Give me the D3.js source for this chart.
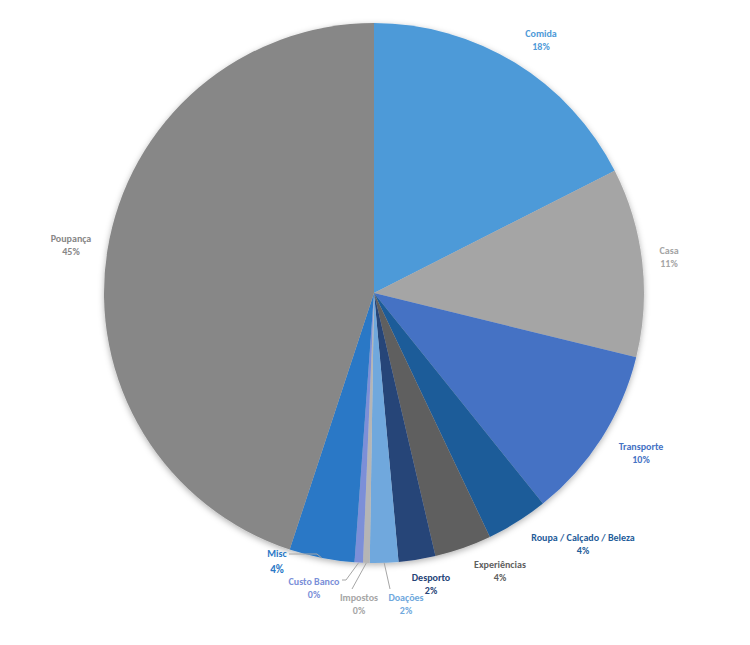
<!DOCTYPE html>
<html><head><meta charset="utf-8">
<script src="https://cdn.jsdelivr.net/npm/d3@7"></script>
<style>body{margin:0;background:#fff}text{font-family:Calibri,"Liberation Sans",Arial,sans-serif;font-weight:bold;font-size:10px}</style>
</head><body><div id="chart"></div>
<script>
var categories = ["Comida","Casa","Transporte","Roupa / Calçado / Beleza","Experiências","Desporto","Doações","Impostos","Custo Banco","Misc","Poupança"];
var values = [17.5,11.3,10.4,3.7,3.4,2.2,1.7,0.4,0.5,3.9,44.9];
var colors = ["#4e9ad8","#a5a5a5","#4472c4","#1f5c99","#5f5f5f","#264478","#70a8dd","#b5b5b5","#7b8fd8","#2a78c6","#878787"];
var pctLabels = ["18%","11%","10%","4%","4%","2%","2%","0%","0%","4%","45%"];

// label anchor positions (x,y of name line) and whether a leader line is drawn
var labelPos = [[541,37,0],[669,254,0],[641,450,0],[583,541,0],[500,568,0],[431,581,0],[406,601,1],[359,601,1],[314,585,1],[277,570,1],[71,242,0]];

var width = 750, height = 645, cx = 374, cy = 293, r = 270;
var svg = d3.select("#chart").append("svg").attr("width", width).attr("height", height);
var defs = svg.append("defs");
var f = defs.append("filter").attr("id","sh").attr("x","-10%").attr("y","-10%").attr("width","120%").attr("height","120%");
f.append("feDropShadow").attr("dx",0).attr("dy",2).attr("stdDeviation",3).attr("flood-opacity",0.3);

var pie = d3.pie().sort(null).value(d => d)(values);
var arc = d3.arc().innerRadius(0).outerRadius(r);
var g = svg.append("g").attr("transform", `translate(${cx},${cy})`);
g.append("g").attr("filter","url(#sh)").selectAll("path").data(pie).enter().append("path")
  .attr("d", arc).attr("fill", (d,i) => colors[i]);

var lbl = svg.append("g");
pie.forEach(function(d,i){
  var p = labelPos[i], c = colors[i];
  if (i === 7) c = "#a6a6a6";
  var mid = (d.startAngle + d.endAngle)/2;
  var ex = cx + Math.sin(mid)*r, ey = cy - Math.cos(mid)*r;
  if (p[2]) {
    var pts;
    if (i === 9) pts = [[ex,ey],[p[0]+40,p[1]-16],[p[0]+12,p[1]-16]];
    else if (i === 8) pts = [[ex,ey],[p[0]+32,p[1]-5],[p[0]+28,p[1]-5]];
    else if (i === 7) pts = [[ex,ey],[p[0]-7,p[1]-12]];
    else pts = [[ex,ey],[p[0]-16,p[1]-12]];
    lbl.append("path").attr("d", d3.line()(pts)).attr("fill","none").attr("stroke","#a6a6a6").attr("stroke-width",1);
  }
  if (i === 9) {
    lbl.append("text").attr("x",p[0]).attr("y",p[1]-13).attr("text-anchor","middle").attr("fill",c).text(categories[i]);
    lbl.append("text").attr("x",p[0]).attr("y",p[1]+3).attr("text-anchor","middle").attr("fill",c).style("font-size","11px").text(pctLabels[i]);
  } else {
    lbl.append("text").attr("x",p[0]).attr("y",p[1]).attr("text-anchor","middle").attr("fill",c).text(categories[i]);
    lbl.append("text").attr("x",p[0]).attr("y",p[1]+13).attr("text-anchor","middle").attr("fill",c).text(pctLabels[i]);
  }
});
</script></body></html>
